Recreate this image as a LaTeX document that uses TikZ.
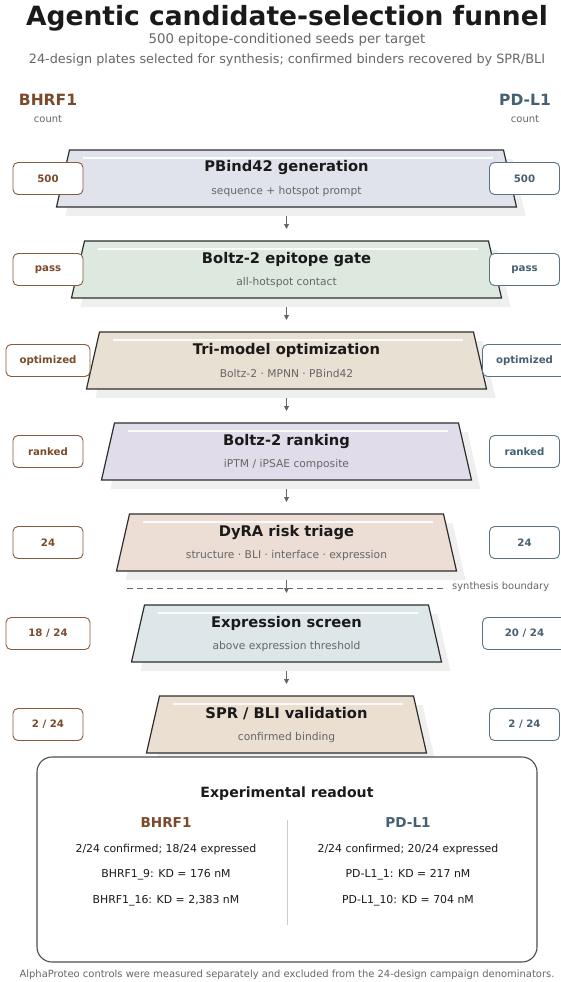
\documentclass[tikz,border=0pt]{standalone}
\usepackage{fontspec}
\setmainfont{DejaVu Sans}
\usetikzlibrary{arrows.meta}
\definecolor{brownc}{HTML}{7A4A2B}
\definecolor{slatec}{HTML}{456072}
\definecolor{brownb}{HTML}{8A5A3A}
\definecolor{slateb}{HTML}{587282}
\definecolor{edgec}{HTML}{2E2E2E}
\definecolor{shadowc}{HTML}{EFEFEF}
\definecolor{greyt}{HTML}{666666}
\definecolor{titlec}{HTML}{1A1A1A}
\definecolor{fa}{HTML}{E0E3EC}
\definecolor{fb}{HTML}{DDE9DF}
\definecolor{fc}{HTML}{E8E0D2}
\definecolor{fd}{HTML}{E0DCEA}
\definecolor{fe}{HTML}{ECDDD5}
\definecolor{ff}{HTML}{DDE7EA}
\definecolor{fg}{HTML}{EBDFD2}
\newcommand\fsz[1]{\fontsize{#1}{#1}\selectfont}
\tikzset{
  stitle/.style={inner sep=0pt, text=titlec, font=\fsz{14.7}\bfseries},
  ssub/.style={inner sep=0pt, text=greyt, font=\fsz{10.7}},
  lcount/.style={draw=brownb, fill=white, line width=0.9pt, rounded corners=5pt, minimum height=32pt, inner sep=0pt, text=brownc, font=\fsz{10.2}\bfseries},
  rcount/.style={draw=slateb, fill=white, line width=0.9pt, rounded corners=5pt, minimum height=32pt, inner sep=0pt, text=slatec, font=\fsz{10.2}\bfseries},
  arr/.style={draw=greyt, line width=1pt, -{Triangle[length=5pt,width=5pt]}},
  plain/.style={inner sep=0pt},
}
\newcommand\stagebox[7]{%
  \pgfmathsetmacro\ty{150+91*#1}%
  \pgfmathsetmacro\by{\ty+57}%
  \pgfmathsetmacro\bh{230-15*#1}%
  \pgfmathsetmacro\th{\bh-13}%
  \fill[shadowc] ({295.5-\th},{\ty+9}) -- ({295.5+\th},{\ty+9}) -- ({295.5+\bh},{\by+9}) -- ({295.5-\bh},{\by+9}) -- cycle;
  \filldraw[fill=#2, draw=edgec, line width=1.2pt] ({286.5-\th},\ty) -- ({286.5+\th},\ty) -- ({286.5+\bh},\by) -- ({286.5-\bh},\by) -- cycle;
  \draw[white, line width=1.5pt, opacity=0.9] ({286.5-\th+13},{\ty+8}) -- ({286.5+\th-11},{\ty+8});
  \node[stitle] (t#1) at (286.5,{\ty+18}) {#3};
  \node[ssub] (u#1) at (286.5,{\ty+41.5}) {#4};
  \node[lcount, minimum width=#7] (L#1) at (48,{\ty+28.5}) {#5};
  \node[rcount, minimum width=#7] (R#1) at (524.5,{\ty+28.5}) {#6};
  \coordinate (top#1) at (286.5,\ty);
  \coordinate (bot#1) at (286.5,\by);
}
\begin{document}
\begin{tikzpicture}[x=1pt,y=-1pt]
\useasboundingbox (0,0) rectangle (561,982);
\node[plain, text=titlec, font=\fsz{26.5}\bfseries] (title) at (287,18) {Agentic candidate-selection funnel};
\node[plain, text=greyt, font=\fsz{13.3}] (sub1) at (287,40) {500 epitope-conditioned seeds per target};
\node[plain, text=greyt, font=\fsz{12.8}] (sub2) at (287,59.5) {24-design plates selected for synthesis; confirmed binders recovered by SPR/BLI};
\node[plain, text=brownc, font=\fsz{15.5}\bfseries] (hl) at (48,100) {BHRF1};
\node[plain, text=greyt, font=\fsz{10}] (hlc) at (48,119) {count};
\node[plain, text=slatec, font=\fsz{15.5}\bfseries] (hr) at (525,100) {PD-L1};
\node[plain, text=greyt, font=\fsz{10}] (hrc) at (525,119) {count};

\stagebox{0}{fa}{PBind42 generation}{sequence + hotspot prompt}{500}{500}{70pt}
\stagebox{1}{fb}{Boltz-2 epitope gate}{all-hotspot contact}{pass}{pass}{70pt}
\stagebox{2}{fc}{Tri-model optimization}{Boltz-2 · MPNN · PBind42}{optimized}{optimized}{84pt}
\stagebox{3}{fd}{Boltz-2 ranking}{iPTM / iPSAE composite}{ranked}{ranked}{70pt}
\stagebox{4}{fe}{DyRA risk triage}{structure · BLI · interface · expression}{24}{24}{70pt}
\stagebox{5}{ff}{Expression screen}{above expression threshold}{18 / 24}{20 / 24}{84pt}
\stagebox{6}{fg}{SPR / BLI validation}{confirmed binding}{2 / 24}{2 / 24}{70pt}

\coordinate (dA) at (127,588);
\coordinate (dB) at (447,588);
\draw[greyt, line width=1pt, dash pattern=on 6pt off 4pt] (dA) -- (dB);
\node[plain, anchor=west, text=greyt, font=\fsz{9.9}] (synb) at (452,587) {synthesis boundary};

\foreach \i/\j in {0/1,1/2,2/3,3/4,4/5,5/6}{
  \draw[arr] ([yshift=-9pt]bot\i) -- ([yshift=12pt]top\j);
}

\node[draw=edgec!85, line width=1.1pt, rounded corners=15pt, fill=white, minimum width=500pt, minimum height=205pt, inner sep=0pt] (readout) at (287,859.5) {};
\node[plain, text=titlec, font=\fsz{14.1}\bfseries] (rt) at (287,794) {Experimental readout};
\node[plain, text=brownc, font=\fsz{13.6}\bfseries] (rl) at (166,823) {BHRF1};
\node[plain, text=slatec, font=\fsz{13.6}\bfseries] (rr) at (408,823) {PD-L1};
\coordinate (vA) at (287,820);
\coordinate (vB) at (287,925);
\draw[black!20, line width=1pt] (vA) -- (vB);
\node[plain, text=titlec, font=\fsz{10.9}] (l1) at (166,849) {2/24 confirmed; 18/24 expressed};
\node[plain, text=titlec, font=\fsz{10.9}] (l2) at (166,875) {BHRF1\_9: KD = 176 nM};
\node[plain, text=titlec, font=\fsz{10.9}] (l3) at (166,901) {BHRF1\_16: KD = 2,383 nM};
\node[plain, text=titlec, font=\fsz{10.9}] (r1) at (408,849) {2/24 confirmed; 20/24 expressed};
\node[plain, text=titlec, font=\fsz{10.9}] (r2) at (408,875) {PD-L1\_1: KD = 217 nM};
\node[plain, text=titlec, font=\fsz{10.9}] (r3) at (408,901) {PD-L1\_10: KD = 704 nM};
\node[plain, text=greyt, font=\fsz{9.95}] (foot) at (287,975) {AlphaProteo controls were measured separately and excluded from the 24-design campaign denominators.};
\end{tikzpicture}
\end{document}
